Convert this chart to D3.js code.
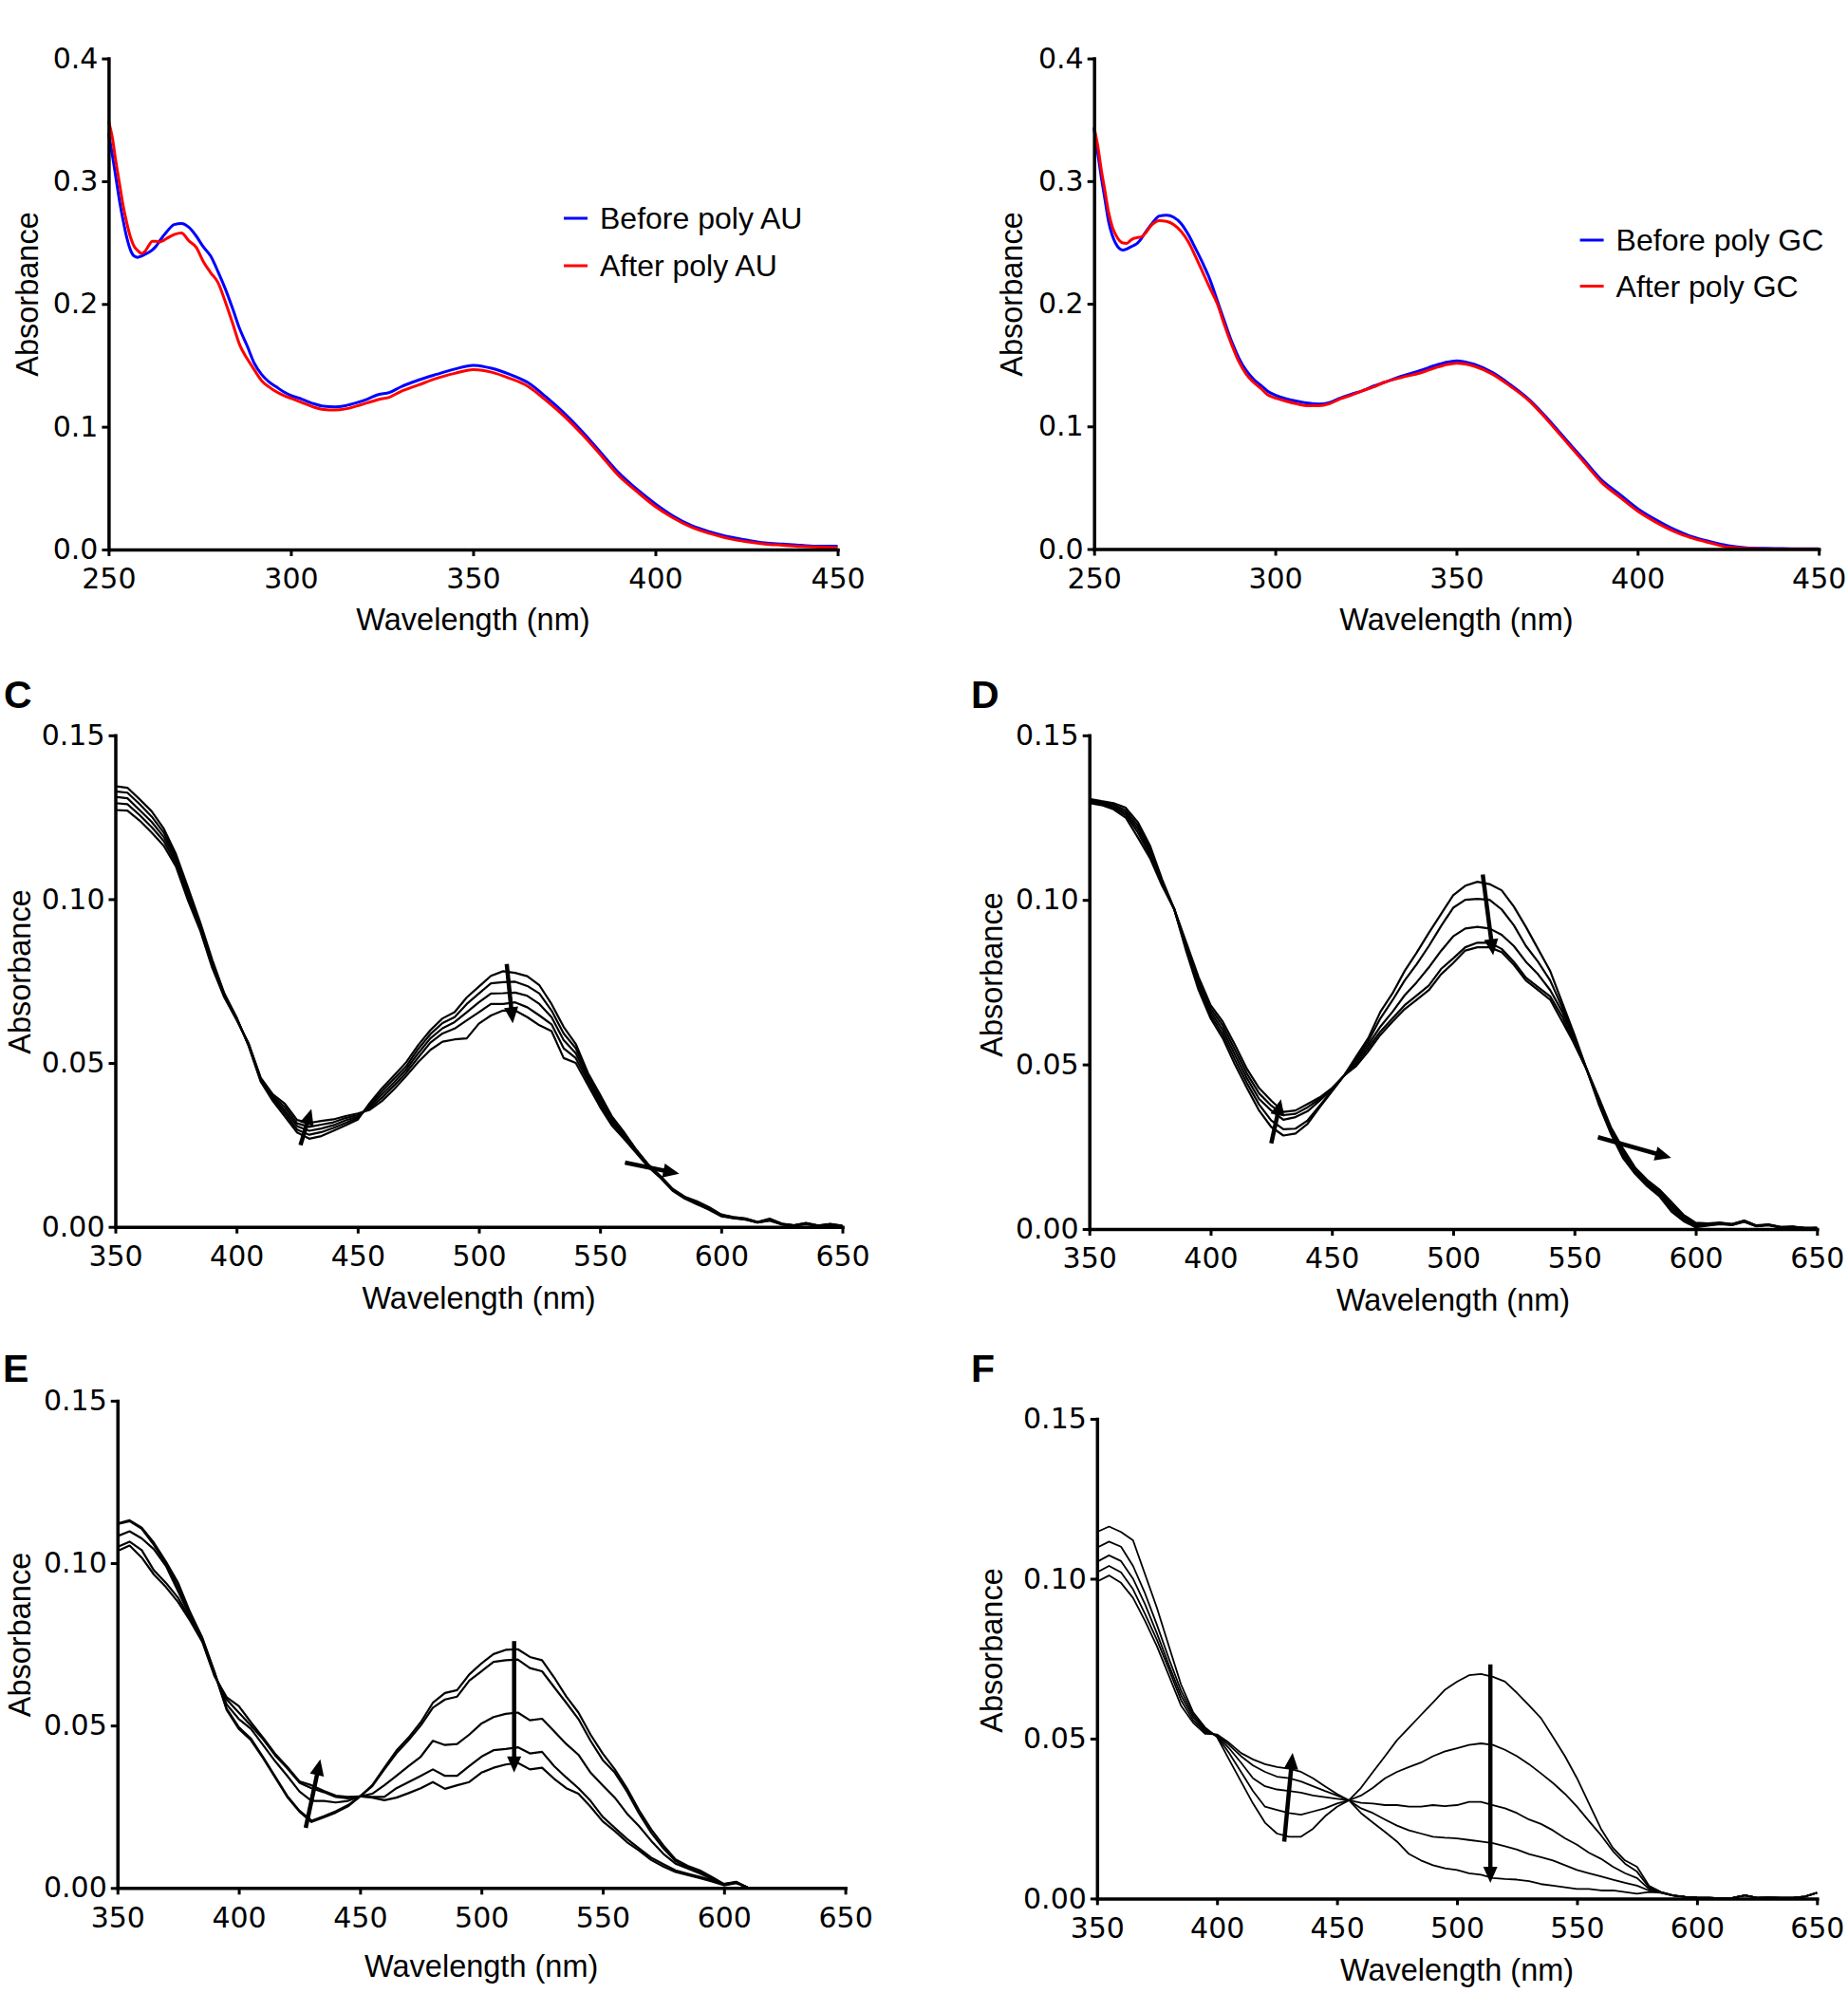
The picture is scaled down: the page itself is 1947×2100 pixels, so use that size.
<!DOCTYPE html>
<html>
<head>
<meta charset="utf-8">
<script src="https://cdn.jsdelivr.net/npm/d3@7"></script>
<style>
  body { margin: 0; background: #fff; }
  text { font-family: "Liberation Sans", Arial, sans-serif; fill: #000; }
</style>
</head>
<body>
<div id="chart"></div>
<script>
// ---- Panels A/B: wavelength grid (nm) and absorbance readings ----
var wlAB = [250,251,252,253,254,255,256,257,258,259,260,261,262,263,264,
  266,268,270,272,274,276,278,280,282,284,286,288,290,292,294,296,298,300,
  303,306,309,312,315,318,321,324,327,330,
  335,340,345,350,355,360,365,370,375,380,385,390,395,400,405,410,415,420,425,430,435,440,445,450];

var aBefore = [.339,.322,.303,.284,.268,.254,.244,.239,.238,.239,.2405,.242,.244,.247,.2514,
  .259,.2647,.2655,.2625,.2555,.2465,.239,.2265,.2125,.1965,.1795,.166,.1515,.1425,.1365,.1325,.1285,.1255,
  .1225,.119,.1167,.1162,.1172,.1195,.1225,.1262,.1278,.1322,
  .138,.1427,.147,.150,.1477,.1427,.136,.1243,.111,.0958,.079,.0623,.0489,.0372,.0271,.0194,.0144,.0104,.0077,.0054,.0044,.0034,.0027,.0027];
var aAfter = [.349,.336,.316,.298,.280,.266,.2545,.247,.2435,.2412,.243,.2475,.251,.251,.2505,
  .2535,.2566,.2578,.2515,.2463,.2345,.2255,.2175,.202,.1845,.1665,.1555,.1462,.1375,.1325,.1285,.1255,.1232,
  .1198,.1163,.114,.1136,.1145,.1168,.1195,.1222,.124,.1285,
  .134,.1395,.1435,.1465,.1445,.1395,.133,.1215,.1085,.0935,.077,.060,.047,.035,.0255,.018,.013,.009,.0063,.0045,.0035,.0025,.002,.0015];

var bBefore = [.343,.323,.303,.285,.267,.256,.249,.245,.2437,.2447,.2462,.2476,.2495,.253,.2575,
  .2655,.2715,.2722,.2705,.2655,.2565,.245,.233,.2195,.2025,.1855,.169,.1555,.1455,.1385,.1335,.1285,.1255,
  .1225,.1205,.119,.1182,.1195,.1232,.1262,.129,.1327,.1358,
  .141,.1455,.1505,.1535,.1505,.1438,.1337,.122,.1068,.090,.0733,.0565,.0447,.033,.0239,.0161,.0101,.006,.0027,.001,.0005,.0003,.0002,.0001];
var bAfter = [.344,.329,.309,.292,.2746,.263,.256,.2515,.2495,.2492,.2515,.2533,.254,.2545,.257,
  .2645,.2678,.2672,.2645,.259,.2505,.2385,.2255,.2125,.2,.1825,.1665,.1525,.1425,.136,.131,.1255,.1232,
  .1205,.1183,.1168,.1168,.1185,.1225,.1255,.129,.132,.1358,
  .140,.1435,.1485,.1515,.149,.1425,.1325,.121,.1055,.0885,.0715,.0545,.0425,.031,.022,.0145,.009,.005,.0015,.0005,0,0,0,0];

// ---- Panels C-F: titration spectra on a 5 nm grid ----
var wlCF = [350,355,360,365,370,375,380,385,390,395,400,405,410,415,420,425,430,435,440,445,
  450,455,460,465,470,475,480,485,490,495,500,505,510,515,520,525,530,535,540,545,
  550,555,560,565,570,575,580,585,590,595,600,605,610,615,620,625,630,635,640,645,650];

var specC = [
  [.1345,.1340,.1305,.1268,.1215,.1138,.1035,.0930,.0815,.0712,.0640,.0552,.0443,.0384,.0336,.0288,.0269,.0277,.0293,.0310,
   .0327,.0378,.0423,.0462,.0502,.0555,.0600,.0636,.0655,.0700,.0733,.0766,.0780,.0775,.0765,.0737,.0680,.0610,.0558,.0470,
   .0404,.0336,.0288,.0235,.0190,.0155,.0116,.0092,.0078,.0060,.0038,.0030,.0026,.0015,.0025,.0010,.0005,.0012,.0004,.0009,.0003],
  [.1329,.1325,.1290,.1252,.1203,.1128,.1025,.0923,.0808,.0708,.0638,.0554,.0446,.0389,.0346,.0297,.0281,.0289,.0302,.0317,
   .0332,.0373,.0413,.0452,.0490,.0543,.0588,.0622,.0640,.0680,.0712,.0743,.0747,.0748,.0735,.0712,.0660,.0590,.0545,.0462,
   .0395,.0330,.0284,.0233,.0188,.0153,.0114,.0090,.0075,.0058,.0036,.0029,.0025,.0014,.0023,.0009,.0005,.0011,.0004,.0008,.0003],
  [.1312,.1308,.1272,.1236,.1190,.1120,.1015,.0917,.0802,.0705,.0636,.0556,.0449,.0394,.0355,.0307,.0293,.0300,.0310,.0325,
   .0336,.0368,.0404,.0441,.0480,.0530,.0575,.0606,.0625,.0655,.0685,.0712,.0713,.0715,.0705,.0680,.0640,.0570,.0530,.0453,
   .0386,.0323,.0279,.0230,.0186,.0152,.0113,.0089,.0073,.0056,.0035,.0028,.0024,.0014,.0022,.0008,.0004,.0010,.0003,.0007,.0002],
  [.1293,.1290,.1257,.1220,.1177,.1110,.1005,.0911,.0796,.0702,.0634,.0558,.0452,.0399,.0365,.0316,.0305,.0312,.0319,.0332,
   .0341,.0362,.0394,.0431,.0470,.0517,.0562,.0590,.0605,.0630,.0655,.0680,.0680,.0685,.0670,.0645,.0618,.0545,.0515,.0444,
   .0376,.0316,.0274,.0228,.0184,.0150,.0112,.0088,.0071,.0054,.0034,.0027,.0023,.0013,.0020,.0008,.0004,.0009,.0003,.0007,.0002],
  [.1272,.1270,.1240,.1203,.1163,.1100,.0996,.0905,.0790,.0700,.0632,.0560,.0455,.0404,.0375,.0326,.0317,.0323,.0328,.0338,
   .0346,.0357,.0384,.0420,.0460,.0503,.0540,.0565,.0572,.0575,.0620,.0645,.0660,.0660,.0640,.0615,.0597,.0515,.0500,.0433,
   .0366,.0308,.0268,.0225,.0182,.0149,.0110,.0086,.0069,.0052,.0032,.0026,.0022,.0013,.0019,.0007,.0004,.0008,.0003,.0006,.0002]
];

var specD = [
  [.1307,.1300,.1294,.1280,.1236,.1165,.1062,.0972,.0843,.0727,.0640,.0580,.0500,.0428,.0360,.0310,.0284,.0290,.0320,.0370,
   .0418,.0466,.0524,.0580,.0660,.0716,.0784,.0840,.0900,.0957,.1014,.1043,.1055,.1048,.1029,.0980,.0918,.0851,.0784,.0687,
   .0591,.0486,.0380,.0290,.0216,.0168,.0130,.0100,.0053,.0024,.0005,.0010,.0015,.0012,.0022,.0008,.0012,.0004,.0006,.0002,.0003],
  [.1303,.1297,.1289,.1272,.1226,.1155,.1057,.0972,.0850,.0737,.0650,.0592,.0515,.0443,.0378,.0330,.0303,.0305,.0330,.0375,
   .0420,.0466,.0517,.0570,.0640,.0695,.0755,.0805,.0860,.0920,.0976,.1000,.1003,.1000,.0971,.0923,.0860,.0812,.0755,.0673,
   .0582,.0486,.0385,.0295,.0223,.0173,.0135,.0105,.0060,.0029,.0009,.0012,.0016,.0013,.0023,.0009,.0012,.0005,.0006,.0002,.0003],
  [.1300,.1294,.1284,.1265,.1216,.1146,.1052,.0972,.0857,.0747,.0660,.0605,.0530,.0458,.0395,.0360,.0332,.0340,.0358,.0390,
   .0423,.0466,.0510,.0560,.0615,.0660,.0710,.0750,.0795,.0845,.0889,.0913,.0918,.0913,.0894,.0860,.0812,.0774,.0726,.0660,
   .0572,.0486,.0390,.0300,.0230,.0178,.0140,.0110,.0068,.0034,.0012,.0014,.0017,.0014,.0024,.0010,.0013,.0005,.0007,.0003,.0003],
  [.1297,.1291,.1280,.1258,.1205,.1137,.1048,.0972,.0864,.0757,.0670,.0618,.0545,.0472,.0412,.0375,.0346,.0350,.0370,.0395,
   .0425,.0466,.0502,.0550,.0600,.0640,.0680,.0710,.0740,.0790,.0822,.0856,.0870,.0870,.0851,.0812,.0764,.0735,.0707,.0645,
   .0562,.0486,.0395,.0305,.0238,.0182,.0145,.0115,.0075,.0038,.0016,.0015,.0018,.0015,.0025,.0010,.0013,.0006,.0007,.0003,.0003],
  [.1294,.1288,.1275,.1250,.1190,.1127,.1043,.0972,.0870,.0766,.0680,.0630,.0560,.0486,.0428,.0390,.0356,.0360,.0380,.0400,
   .0428,.0466,.0495,.0540,.0590,.0630,.0668,.0697,.0726,.0774,.0808,.0846,.0856,.0856,.0841,.0803,.0755,.0726,.0697,.0630,
   .0562,.0486,.0400,.0310,.0245,.0187,.0149,.0120,.0082,.0043,.0019,.0017,.0020,.0015,.0026,.0011,.0014,.0006,.0007,.0003,.0003]
];

var specE = [
  [.1122,.1132,.1109,.1063,.1004,.0939,.0848,.0770,.0665,.0548,.0490,.0455,.0400,.0340,.0280,.0235,.0203,.0217,.0232,.0251,
   .0282,.0316,.0370,.0423,.0463,.0510,.0570,.0600,.0609,.0657,.0691,.0720,.0733,.0735,.0711,.0701,.0648,.0589,.0540,.0472,
   .0414,.0365,.0307,.0239,.0180,.0131,.0088,.0068,.0054,.0034,.0012,.0019,0,null,null,null,null,null,null,null,null],
  [.1120,.1129,.1106,.1056,.0998,.0926,.0843,.0767,.0662,.0552,.0495,.0460,.0403,.0343,.0283,.0238,.0207,.0221,.0236,.0255,
   .0282,.0313,.0365,.0415,.0455,.0500,.0555,.0580,.0589,.0638,.0667,.0696,.0701,.0703,.0677,.0667,.0618,.0570,.0520,.0453,
   .0394,.0355,.0297,.0229,.0170,.0122,.0083,.0063,.0049,.0030,.0010,.0018,0,null,null,null,null,null,null,null,null],
  [.1083,.1098,.1076,.1043,.0991,.0913,.0835,.0764,.0659,.0565,.0520,.0490,.0440,.0390,.0345,.0297,.0268,.0268,.0263,.0268,
   .0282,.0290,.0316,.0345,.0375,.0404,.0453,.0440,.0443,.0472,.0506,.0526,.0536,.0540,.0516,.0521,.0482,.0443,.0410,.0355,
   .0316,.0278,.0229,.0190,.0145,.0105,.0075,.0060,.0045,.0028,.0012,.0017,0,null,null,null,null,null,null,null,null],
  [.1050,.1066,.1040,.0978,.0939,.0893,.0828,.0760,.0655,.0580,.0540,.0500,.0458,.0408,.0368,.0324,.0307,.0295,.0280,.0276,
   .0282,.0280,.0280,.0307,.0326,.0345,.0365,.0345,.0345,.0375,.0404,.0424,.0428,.0433,.0414,.0419,.0375,.0340,.0307,.0268,
   .0219,.0185,.0151,.0122,.0093,.0073,.0054,.0044,.0034,.0024,.0010,.0016,0,null,null,null,null,null,null,null,null],
  [.1037,.1054,.1017,.0965,.0926,.0880,.0822,.0757,.0652,.0587,.0560,.0510,.0463,.0413,.0373,.0328,.0316,.0299,.0284,.0280,
   .0282,.0278,.0270,.0278,.0292,.0307,.0326,.0305,.0316,.0326,.0355,.0370,.0380,.0385,.0365,.0370,.0336,.0307,.0290,.0250,
   .0205,.0175,.0141,.0115,.0086,.0066,.0049,.0040,.0030,.0020,.0008,.0015,0,null,null,null,null,null,null,null,null]
];

var specF = [
  [.1146,.1163,.1146,.1120,.1014,.0908,.0788,.0669,.0583,.0535,.0505,.0435,.0366,.0297,.0237,.0203,.0193,.0193,.0218,.0257,
   .0287,.0307,.0346,.0396,.0445,.0495,.0534,.0574,.0613,.0653,.0678,.0698,.0702,.0693,.0678,.0643,.0604,.0564,.0505,.0445,
   .0376,.0297,.0218,.0158,.0119,.0099,.0040,.0020,.0010,.0005,.0003,.0002,.0001,.0002,.0010,.0002,.0003,.0002,.0002,.0006,.0018],
  [.1097,.1116,.1100,.1040,.0954,.0855,.0749,.0650,.0575,.0530,.0507,.0455,.0396,.0336,.0287,.0277,.0267,.0262,.0272,.0282,
   .0297,.0307,.0322,.0346,.0376,.0396,.0411,.0425,.0445,.0460,.0470,.0480,.0485,.0480,.0465,.0445,.0420,.0391,.0361,.0327,
   .0287,.0242,.0198,.0148,.0109,.0084,.0035,.0020,.0010,.0005,.0003,.0002,.0001,.0002,.0010,.0002,.0003,.0002,.0002,.0006,.0018],
  [.1053,.1073,.1055,.1000,.0920,.0828,.0729,.0635,.0567,.0525,.0509,.0470,.0425,.0376,.0351,.0341,.0336,.0331,.0322,.0317,
   .0312,.0307,.0299,.0297,.0292,.0292,.0287,.0287,.0292,.0289,.0292,.0302,.0302,.0292,.0282,.0267,.0247,.0233,.0213,.0188,
   .0168,.0143,.0124,.0099,.0079,.0064,.0030,.0019,.0010,.0005,.0003,.0002,.0001,.0002,.0010,.0002,.0003,.0002,.0002,.0006,.0018],
  [.1020,.1040,.1020,.0967,.0890,.0808,.0716,.0620,.0558,.0520,.0511,.0480,.0445,.0416,.0396,.0381,.0376,.0366,.0351,.0336,
   .0322,.0307,.0282,.0267,.0247,.0228,.0213,.0203,.0193,.0190,.0188,.0183,.0178,.0173,.0163,.0153,.0139,.0129,.0119,.0104,
   .0089,.0079,.0069,.0059,.0049,.0040,.0025,.0018,.0009,.0005,.0003,.0002,.0001,.0002,.0010,.0002,.0003,.0002,.0002,.0006,.0018],
  [.0991,.1010,.0987,.0940,.0868,.0788,.0696,.0603,.0550,.0515,.0513,.0487,.0455,.0435,.0420,.0411,.0406,.0396,.0376,.0351,
   .0327,.0307,.0267,.0237,.0208,.0178,.0139,.0119,.0104,.0094,.0089,.0079,.0074,.0064,.0061,.0059,.0054,.0045,.0040,.0035,
   .0030,.0030,.0025,.0025,.0020,.0015,.0020,.0018,.0009,.0005,.0003,.0002,.0001,.0002,.0010,.0002,.0003,.0002,.0002,.0006,.0018]
];

// arrows: [fromNm, fromAbs, toNm, toAbs]
var arrowsC = [[511.5,.0802,514,.0621],[426.4,.0249,430.9,.036],[560.3,.0196,582.7,.0162]];
var arrowsD = [[512.2,.1077,516.5,.0832],[425,.026,429,.0394],[559.7,.0279,589.9,.0216]];
var arrowsE = [[513.5,.076,513.5,.0355],[427.6,.0185,433.6,.0396]];
var arrowsF = [[513.9,.0732,513.9,.0049],[428,.0178,431.5,.0455]];

var ticksAB_x = [250,300,350,400,450];
var ticksAB_y = [0,0.1,0.2,0.3,0.4];
var ticksCF_x = [350,400,450,500,550,600,650];
var ticksCF_y = [0,0.05,0.10,0.15];

var svg = d3.select("#chart").append("svg")
  .attr("width", 1947)
  .attr("height", 2100);
svg.append("rect").attr("width", 1947).attr("height", 2100).attr("fill", "#fff");

var TICKFONT = '"DejaVu Sans", Verdana, sans-serif';

function drawPanel(p) {
  var x = d3.scaleLinear().domain(p.xDomain).range([p.left, p.right]);
  var y = d3.scaleLinear().domain(p.yDomain).range([p.bottom, p.top]);
  var g = svg.append("g");

  var line = d3.line()
    .defined(d => d[1] !== null)
    .x(d => x(d[0]))
    .y(d => y(d[1]));
  if (p.smooth) line.curve(d3.curveMonotoneX);

  p.series.forEach(function(s) {
    g.append("path")
      .datum(p.wl.map((w, i) => [w, s.values[i]]))
      .attr("fill", "none")
      .attr("stroke", s.color)
      .attr("stroke-width", p.lineWidth)
      .attr("stroke-linejoin", "round")
      .attr("d", line);
  });

  // titration arrows
  (p.arrows || []).forEach(function(a) {
    var x0 = x(a[0]), y0 = y(a[1]), x1 = x(a[2]), y1 = y(a[3]);
    var dx = x1 - x0, dy = y1 - y0, len = Math.sqrt(dx * dx + dy * dy);
    var ux = dx / len, uy = dy / len, hl = 17, hw = 7.5;
    var bx = x1 - ux * hl, by = y1 - uy * hl;
    g.append("line")
      .attr("x1", x0).attr("y1", y0).attr("x2", bx + ux * 2).attr("y2", by + uy * 2)
      .attr("stroke", "#000").attr("stroke-width", 4.5);
    g.append("path")
      .attr("d", `M${x1},${y1}L${bx - uy * hw},${by + ux * hw}L${bx + uy * hw},${by - ux * hw}Z`)
      .attr("fill", "#000");
  });

  // axes
  var xAxis = g.append("g")
    .attr("transform", `translate(0,${p.bottom})`)
    .call(d3.axisBottom(x).tickValues(p.xTicks).tickFormat(d3.format("d"))
      .tickSize(7).tickSizeOuter(0).tickPadding(13));
  var yAxis = g.append("g")
    .attr("transform", `translate(${p.left},0)`)
    .call(d3.axisLeft(y).tickValues(p.yTicks).tickFormat(d3.format(p.yFormat))
      .tickSize(7).tickSizeOuter(0).tickPadding(4));
  [xAxis, yAxis].forEach(function(ax) {
    ax.attr("font-size", 30).attr("font-family", TICKFONT);
    ax.select(".domain").attr("stroke-width", 3.5).attr("stroke-linecap", "square");
    ax.selectAll(".tick line").attr("stroke-width", 3);
    ax.selectAll(".tick text").attr("fill", "#000").style("font-family", TICKFONT);
  });

  // axis titles
  g.append("text")
    .attr("x", (p.left + p.right) / 2)
    .attr("y", p.xTitleY)
    .attr("text-anchor", "middle")
    .attr("font-size", 32.5)
    .text("Wavelength (nm)");
  g.append("text")
    .attr("transform", `translate(${p.yTitleX},${p.yTitleY}) rotate(-90)`)
    .attr("text-anchor", "middle")
    .attr("font-size", 32.5)
    .text("Absorbance");

  if (p.letter) {
    g.append("text")
      .attr("x", p.letter[1]).attr("y", p.letter[2])
      .attr("font-size", 41).attr("font-weight", "bold")
      .text(p.letter[0]);
  }

  if (p.legend) {
    p.legend.items.forEach(function(it, i) {
      var ly = p.legend.y + i * p.legend.gap;
      g.append("line")
        .attr("x1", p.legend.x).attr("x2", p.legend.x + 25)
        .attr("y1", ly).attr("y2", ly)
        .attr("stroke", it.color).attr("stroke-width", 3);
      g.append("text")
        .attr("x", p.legend.x + 38).attr("y", ly + 11)
        .attr("font-size", 32)
        .text(it.label);
    });
  }
}

var blk = "#000";
function black(list) { return list.map(v => ({ values: v, color: blk })); }

drawPanel({
  left: 114.4, right: 882.5, bottom: 579, top: 61.6,
  xDomain: [250, 450], yDomain: [0, 0.4], xTicks: ticksAB_x, yTicks: ticksAB_y, yFormat: ".1f",
  wl: wlAB, smooth: true, lineWidth: 3,
  series: [{ values: aBefore, color: "#0000ff" }, { values: aAfter, color: "#ff0000" }],
  xTitleY: 664, yTitleX: 40, yTitleY: 310,
  legend: { x: 594, y: 230, gap: 50, items: [{ label: "Before poly AU", color: "#0000ff" }, { label: "After poly AU", color: "#ff0000" }] }
});
drawPanel({
  left: 1152.7, right: 1916.2, bottom: 578.5, top: 61.6,
  xDomain: [250, 450], yDomain: [0, 0.4], xTicks: ticksAB_x, yTicks: ticksAB_y, yFormat: ".1f",
  wl: wlAB, smooth: true, lineWidth: 3,
  series: [{ values: bBefore, color: "#0000ff" }, { values: bAfter, color: "#ff0000" }],
  xTitleY: 664, yTitleX: 1077, yTitleY: 310,
  legend: { x: 1664.6, y: 253, gap: 48.5, items: [{ label: "Before poly GC", color: "#0000ff" }, { label: "After poly GC", color: "#ff0000" }] }
});
drawPanel({
  left: 121.5, right: 887.5, bottom: 1292.7, top: 774.8,
  xDomain: [350, 650], yDomain: [0, 0.15], xTicks: ticksCF_x, yTicks: ticksCF_y, yFormat: ".2f",
  wl: wlCF, smooth: false, lineWidth: 2.2, series: black(specC), arrows: arrowsC,
  xTitleY: 1379, yTitleX: 32, yTitleY: 1024, letter: ["C", 4, 746]
});
drawPanel({
  left: 1147.7, right: 1914.3, bottom: 1295, top: 774.8,
  xDomain: [350, 650], yDomain: [0, 0.15], xTicks: ticksCF_x, yTicks: ticksCF_y, yFormat: ".2f",
  wl: wlCF, smooth: false, lineWidth: 2.2, series: black(specD), arrows: arrowsD,
  xTitleY: 1381, yTitleX: 1056, yTitleY: 1027, letter: ["D", 1023, 746]
});
drawPanel({
  left: 123.75, right: 890.6, bottom: 1989.3, top: 1475.9,
  xDomain: [350, 650], yDomain: [0, 0.15], xTicks: ticksCF_x, yTicks: ticksCF_y, yFormat: ".2f",
  wl: wlCF, smooth: false, lineWidth: 2.2, series: black(specE), arrows: arrowsE,
  xTitleY: 2083, yTitleX: 32, yTitleY: 1722.5, letter: ["E", 3, 1456]
});
drawPanel({
  left: 1155.8, right: 1914.3, bottom: 2000.4, top: 1495,
  xDomain: [350, 650], yDomain: [0, 0.15], xTicks: ticksCF_x, yTicks: ticksCF_y, yFormat: ".2f",
  wl: wlCF, smooth: false, lineWidth: 1.8, series: black(specF), arrows: arrowsF,
  xTitleY: 2087, yTitleX: 1056, yTitleY: 1739, letter: ["F", 1023, 1456]
});
</script>
</body>
</html>
